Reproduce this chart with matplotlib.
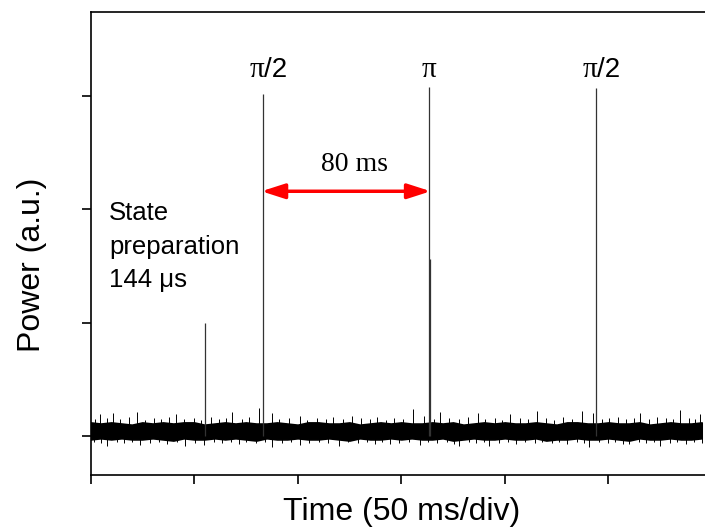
import matplotlib.pyplot as plt
import numpy as np

# pulses (time in ms, peak in a.u.)
pulse_t = [55.3, 83.3, 163.4, 164.1, 244.0]
pulse_h = [1.00, 3.02, 3.08, 1.56, 3.07]

# noise floor: envelope sampled every 5 ms
noise_t = np.arange(0, 300, 5)
noise_hi = [0.12, 0.11, 0.12, 0.11, 0.10, 0.12, 0.11, 0.12, 0.11, 0.12,
            0.12, 0.10, 0.11, 0.12, 0.11, 0.12, 0.11, 0.11, 0.12, 0.11,
            0.10, 0.12, 0.12, 0.11, 0.11, 0.12, 0.10, 0.11, 0.12, 0.11,
            0.12, 0.11, 0.11, 0.12, 0.11, 0.12, 0.10, 0.11, 0.12, 0.11,
            0.12, 0.11, 0.11, 0.12, 0.11, 0.10, 0.12, 0.12, 0.11, 0.11,
            0.12, 0.11, 0.11, 0.12, 0.10, 0.11, 0.12, 0.11, 0.11, 0.12]
noise_lo = [-0.03, -0.02, -0.03, -0.02, -0.03, -0.03, -0.02, -0.03, -0.04, -0.02,
            -0.03, -0.03, -0.02, -0.03, -0.02, -0.03, -0.04, -0.02, -0.03, -0.03,
            -0.02, -0.03, -0.03, -0.02, -0.03, -0.04, -0.02, -0.03, -0.03, -0.02,
            -0.03, -0.02, -0.03, -0.03, -0.02, -0.04, -0.03, -0.02, -0.03, -0.03,
            -0.02, -0.03, -0.03, -0.02, -0.04, -0.03, -0.03, -0.02, -0.03, -0.03,
            -0.02, -0.03, -0.04, -0.02, -0.03, -0.03, -0.02, -0.03, -0.03, -0.02]

# noise spikes sticking out of the floor
spike_up_t = [2.1, 4.6, 7.8, 10.9, 14.2, 18.5, 22.4, 26.1, 30.7, 34.0, 37.9,
              41.3, 45.2, 49.8, 53.1, 58.4, 62.0, 65.5, 68.3, 72.9, 76.4, 81.3,
              87.6, 91.2, 95.8, 101.0, 104.7, 109.3, 113.6, 117.2, 121.9, 126.0,
              130.4, 134.8, 138.1, 142.7, 146.3, 150.9, 155.5, 161.0, 165.8,
              168.7, 173.2, 177.9, 182.4, 187.0, 190.6, 195.3, 198.8, 202.5,
              207.1, 211.4, 215.3, 219.8, 223.5, 228.2, 232.6, 237.0, 242.5,
              246.9, 250.3, 254.8, 258.4, 262.1, 265.0, 269.7, 273.3, 277.8,
              281.2, 284.5, 288.9, 292.0, 294.0]
spike_up_h = [0.15, 0.19, 0.16, 0.20, 0.15, 0.17, 0.21, 0.14, 0.16, 0.15, 0.17,
              0.19, 0.15, 0.16, 0.14, 0.17, 0.15, 0.16, 0.21, 0.15, 0.17, 0.25,
              0.20, 0.15, 0.16, 0.18, 0.14, 0.16, 0.15, 0.17, 0.15, 0.18,
              0.16, 0.15, 0.17, 0.14, 0.16, 0.15, 0.24, 0.18, 0.15,
              0.21, 0.16, 0.15, 0.17, 0.20, 0.15, 0.16, 0.14, 0.19,
              0.16, 0.15, 0.22, 0.16, 0.14, 0.17, 0.15, 0.22, 0.20,
              0.15, 0.16, 0.17, 0.15, 0.16, 0.20, 0.15, 0.17, 0.16,
              0.15, 0.23, 0.16, 0.15, 0.19]
spike_dn_t = [1.5, 5.2, 8.0, 12.6, 16.3, 20.1, 24.0, 28.7, 33.2, 37.0, 41.8,
              45.6, 50.3, 55.0, 59.7, 63.4, 67.9, 71.5, 75.2, 79.8, 84.4, 87.7,
              92.5, 96.9, 101.0, 105.6, 110.2, 114.8, 120.0, 124.3, 128.9, 133.5,
              137.2, 140.8, 144.5, 149.1, 153.6, 159.0, 163.0, 167.4, 171.9,
              175.5, 178.0, 182.7, 186.3, 189.9, 192.4, 197.0, 201.6, 205.3,
              209.9, 214.4, 218.0, 222.7, 226.3, 230.0, 234.8, 238.4, 240.6,
              245.2, 249.7, 253.4, 257.0, 260.0, 264.6, 268.2, 271.8, 275.0,
              279.5, 283.1, 287.6, 291.3, 295.0]
spike_dn_h = [-0.05, -0.06, -0.09, -0.05, -0.06, -0.05, -0.08, -0.06, -0.05, -0.07,
              -0.05, -0.09, -0.06, -0.08, -0.05, -0.06, -0.05, -0.07, -0.05, -0.06,
              -0.05, -0.10, -0.06, -0.05, -0.08, -0.06, -0.05, -0.06, -0.09, -0.05,
              -0.06, -0.05, -0.07, -0.05, -0.07, -0.06, -0.05, -0.08, -0.05, -0.06,
              -0.05, -0.07, -0.09, -0.05, -0.06, -0.05, -0.09, -0.06, -0.05, -0.07,
              -0.05, -0.06, -0.05, -0.06, -0.05, -0.07, -0.05, -0.06, -0.095, -0.05,
              -0.06, -0.05, -0.07, -0.07, -0.05, -0.06, -0.05, -0.09, -0.06, -0.05,
              -0.07, -0.05, -0.06]

fig = plt.figure(figsize=(7.05, 5.32), dpi=100)
ax = fig.add_axes([90.5 / 705, 57 / 532, 614.5 / 705, 463 / 532])

ax.fill_between(noise_t, noise_lo, noise_hi, color='black', lw=1.2, edgecolor='black')
ax.vlines(spike_up_t, 0.05, spike_up_h, color='black', lw=0.7)
ax.vlines(spike_dn_t, 0.0, spike_dn_h, color='black', lw=0.7)
ax.vlines(pulse_t, 0.0, pulse_h, color='#333333', lw=0.9)

ax.set_xlim(0, 296.6)
ax.set_ylim(-0.344, 3.742)
ax.set_xticks([0, 50, 100, 150, 200, 250])
ax.set_yticks([0, 1, 2, 3])
ax.tick_params(direction='out', length=6.5, width=1.2,
               labelbottom=False, labelleft=False)
ax.spines['right'].set_visible(False)
for s in ['left', 'top', 'bottom']:
    ax.spines[s].set_linewidth(1.2)

ax.set_ylabel('Power (a.u.)', fontsize=23, family='Liberation Sans', va='center')
ax.yaxis.set_label_coords(-0.0944, 0.4536)
ax.set_xlabel('Time (50 ms/div)', fontsize=23, family='Liberation Sans', va='center')
ax.xaxis.set_label_coords(0.507, -0.080)

# pulse labels: serif pi + sans "/2"
for x, frac in [(pulse_t[1], '/2'), (pulse_t[2], ''), (pulse_t[4], '/2')]:
    if frac:
        ax.text(x - 2.8, 3.17, 'π', fontsize=21, family='Liberation Serif',
                ha='center', va='baseline')
        ax.text(x + 0.3, 3.17, frac, fontsize=20, family='Liberation Sans',
                ha='left', va='baseline')
    else:
        ax.text(x, 3.17, 'π', fontsize=21, family='Liberation Serif',
                ha='center', va='baseline')

ax.annotate('', xy=(pulse_t[2] + 0.8, 2.16), xytext=(pulse_t[1] - 0.8, 2.16),
            arrowprops=dict(arrowstyle='<|-|>,head_length=1.4,head_width=0.45',
                            color='red', lw=2.5, shrinkA=0, shrinkB=0))
ax.text(127.2, 2.40, '80 ms', fontsize=20, family='Liberation Serif',
        ha='center', va='center')

ax.text(8.9, 2.07, 'State\npreparation\n144 μs', fontsize=18.5,
        family='Liberation Sans', ha='left', va='top', linespacing=1.5)

fig.savefig('out.png', dpi=100)
